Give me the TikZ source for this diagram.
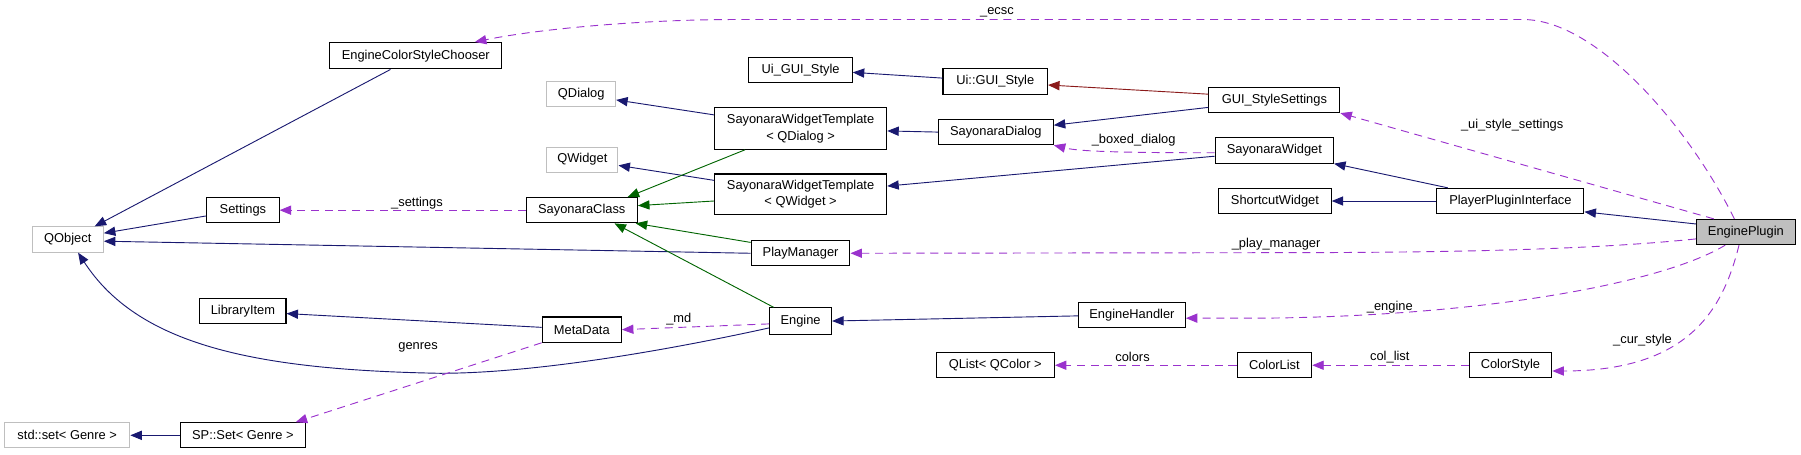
\documentclass[tikz,border=0pt]{standalone}
\usepackage{fontspec}
\setmainfont{Liberation Sans}
\usetikzlibrary{arrows.meta}
\definecolor{inhBlue}{RGB}{25,25,112}
\definecolor{inhGreen}{RGB}{0,100,0}
\definecolor{inhRed}{RGB}{139,26,26}
\definecolor{usePurple}{RGB}{154,50,205}
\definecolor{extGray}{RGB}{191,191,191}

\begin{document}
\begin{tikzpicture}[x=1pt, y=-1pt,
    every node/.style={font=\fontsize{11.2}{14}\selectfont},
    cls/.style={draw=black, line width=0.9pt, fill=white, inner sep=0pt, minimum height=22pt},
    ext/.style={cls, draw=extGray},
    tip/.style={-{Triangle[length=10pt,width=8pt]}},
    inh/.style={tip, inhBlue, line width=0.8pt},
    der/.style={tip, inhGreen, line width=0.8pt},
    tpl/.style={tip, inhRed, line width=0.8pt},
    use/.style={tip, usePurple, line width=0.8pt, dash pattern=on 7pt off 5pt},
    lbl/.style={inner sep=0pt}]
        \useasboundingbox (0,0) rectangle (1568,396);

        \node[cls, minimum width=150pt, minimum height=23pt] (chooser) at (362,48.5) {EngineColorStyleChooser};
        \node[cls, minimum width=90pt] (uistyle) at (697,61) {Ui\_GUI\_Style};
        \node[cls, minimum width=91pt] (uinsstyle) at (866.5,71) {Ui::GUI\_Style};
        \node[cls, minimum width=114pt] (guisettings) at (1109.5,87) {GUI\_StyleSettings};
        \node[ext, minimum width=60pt] (qdialog) at (506,82) {QDialog};
        \node[cls, minimum width=150pt, minimum height=36pt, align=center] (swtdialog) at (697,112) {SayonaraWidgetTemplate\\< QDialog >};
        \node[cls, minimum width=100pt] (sdialog) at (867,115) {SayonaraDialog};
        \node[cls, minimum width=103pt] (swidget) at (1109.5,131) {SayonaraWidget};
        \node[ext, minimum width=62pt] (qwidget) at (507,139) {QWidget};
        \node[cls, minimum width=150pt, minimum height=35pt, align=center] (swtwidget) at (697,169) {SayonaraWidgetTemplate\\< QWidget >};
        \node[cls, minimum width=97pt] (sclass) at (506.5,183) {SayonaraClass};
        \node[cls, minimum width=63pt] (settings) at (211.5,183) {Settings};
        \node[ext, minimum width=62pt] (qobject) at (59,208.5) {QObject};
        \node[cls, minimum width=98pt] (shortcut) at (1110,175) {ShortcutWidget};
        \node[cls, minimum width=128pt] (ppi) at (1315,175) {PlayerPluginInterface};
        \node[cls, fill=extGray, minimum width=86pt] (plugin) at (1520,202) {EnginePlugin};
        \node[cls, minimum width=86pt] (playmgr) at (697,220.5) {PlayManager};
        \node[cls, minimum width=75pt] (libitem) at (211.5,271) {LibraryItem};
        \node[cls, minimum width=69pt] (metadata) at (506.5,287) {MetaData};
        \node[cls, minimum width=54pt, minimum height=23pt] (engine) at (697,279.5) {Engine};
        \node[cls, minimum width=93pt] (handler) at (985.5,274) {EngineHandler};
        \node[cls, minimum width=103pt] (qlist) at (866.5,318) {QList< QColor >};
        \node[cls, minimum width=65pt] (clist) at (1109.5,318) {ColorList};
        \node[cls, minimum width=72pt] (cstyle) at (1315,318) {ColorStyle};
        \node[ext, minimum width=109pt] (stdset) at (58.5,379) {std::set< Genre >};
        \node[cls, minimum width=109pt] (spset) at (211.5,379) {SP::Set< Genre >};

        \draw[inh] ([xshift=-22pt]chooser.south) -- ([xshift=-8pt]qobject.north east);
        \draw[inh] ([yshift=-5pt]settings.west) -- ([yshift=5.5pt]qobject.east);
        \draw[inh] (playmgr.west) -- ([yshift=-1.5pt]qobject.east);
        \draw[inh] ([yshift=-6pt]engine.west) .. controls (590,303) and (470,325) .. (383,325) .. controls (220,322) and (120,300) .. ([xshift=9pt]qobject.south);
        \draw[inh] ([yshift=2pt]metadata.west) -- ([yshift=-2pt]libitem.east);
        \draw[inh] (spset.west) -- (stdset.east);
        \draw[inh] ([yshift=12pt]swtdialog.west) -- ([yshift=-5pt]qdialog.east);
        \draw[inh] ([yshift=12pt]swtwidget.west) -- ([yshift=-5pt]qwidget.east);
        \draw[inh] ([yshift=3pt]uinsstyle.west) -- ([yshift=-2pt]uistyle.east);
        \draw[inh] (sdialog.west) -- ([yshift=-2pt]swtdialog.east);
        \draw[inh] ([yshift=-6.5pt]guisettings.west) -- ([yshift=6pt]sdialog.east);
        \draw[inh] ([yshift=-5pt]swidget.west) -- ([yshift=7pt]swtwidget.east);
        \draw[inh] ([xshift=10pt]ppi.north west) -- (swidget.south east);
        \draw[inh] (ppi.west) -- (shortcut.east);
        \draw[inh] ([yshift=7pt]plugin.west) -- ([yshift=2pt]ppi.south east);
        \draw[inh] ([yshift=-1pt]handler.west) -- (engine.east);
        \draw[tpl] ([yshift=5pt]guisettings.west) -- ([yshift=-3pt]uinsstyle.east);
        \draw[der] ([xshift=27pt]swtdialog.south west) -- ([xshift=-9pt]sclass.north east);
        \draw[der] ([yshift=-6pt]swtwidget.west) -- ([yshift=4pt]sclass.east);
        \draw[der] ([yshift=-2pt]playmgr.north west) -- ([xshift=-2pt]sclass.south east);
        \draw[der] ([xshift=4pt]engine.north west) -- ([xshift=28.5pt]sclass.south);

        \draw[use] ([xshift=-10pt]plugin.north) .. controls (1470,110) and (1390,17) .. (1326,17) -- (640,17) .. controls (560,17) and (470,25) .. ([xshift=-24pt]chooser.north east);
        \draw[use] ([xshift=15.5pt]plugin.north west) -- (guisettings.south east);
        \draw[use] ([yshift=-2pt]swidget.west) .. controls (980,133) and (940,132) .. (sdialog.south east);
        \draw[use] (sclass.west) -- (settings.east);
        \draw[use] ([yshift=-6pt]plugin.west) .. controls (1380,218) and (1250,220) .. (1100,220) -- (playmgr.east);
        \draw[use] ([xshift=-18pt]plugin.south) .. controls (1450,245) and (1300,275) .. (1100,277) -- ([yshift=-3pt]handler.east);
        \draw[use] ([yshift=-2.5pt]engine.west) -- (metadata.east);
        \draw[use] (metadata.south west) -- ([xshift=-9pt]spset.north east);
        \draw[use] (clist.west) -- (qlist.east);
        \draw[use] (cstyle.west) -- (clist.east);
        \draw[use] ([xshift=-6pt]plugin.south) .. controls (1500,270) and (1470,323) .. ([yshift=-5pt]cstyle.east);

        \node[lbl] (lecsc) at (868,11) {\_ecsc};
        \node[lbl] (luiset) at (1316.5,109) {\_ui\_style\_settings};
        \node[lbl] (lboxed) at (987,122) {\_boxed\_dialog};
        \node[lbl] (lsettings) at (363,177) {\_settings};
        \node[lbl] (lplaymgr) at (1111,213) {\_play\_manager};
        \node[lbl] (lengine) at (1210,267) {\_engine};
        \node[lbl] (lmd) at (591,278) {\_md};
        \node[lbl] (lgenres) at (364,302) {genres};
        \node[lbl] (lcolors) at (986,311) {colors};
        \node[lbl] (lcollist) at (1210,311) {col\_list};
        \node[lbl] (lcurstyle) at (1430,296) {\_cur\_style};
\end{tikzpicture}
\end{document}
